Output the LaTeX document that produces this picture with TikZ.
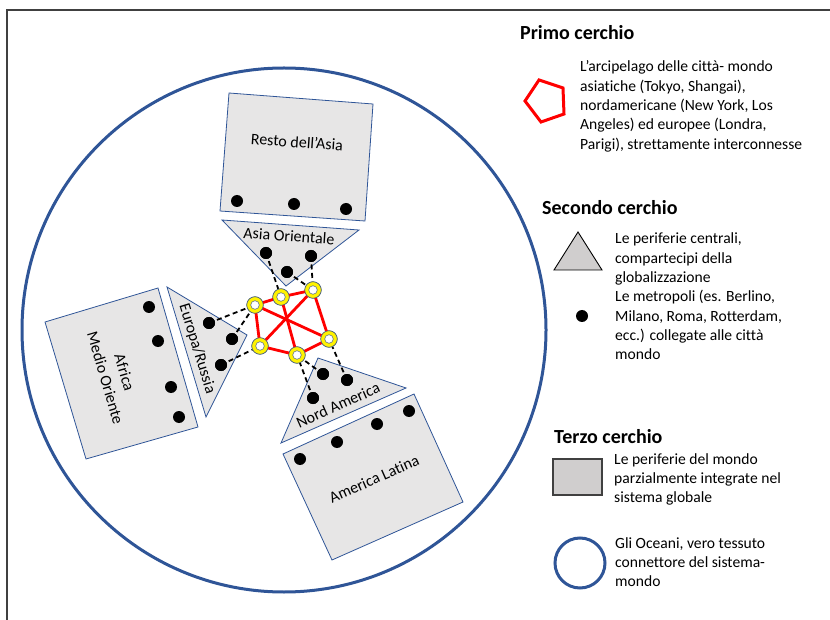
\documentclass[tikz,border=0pt]{standalone}
\usepackage{fontspec}
\setmainfont[Ligatures=NoCommon]{Carlito}
\definecolor{oblue}{HTML}{2F5597}
\definecolor{regfill}{HTML}{E7E6E6}
\definecolor{legfill}{HTML}{D0CECE}
\definecolor{framegray}{HTML}{404040}
\definecolor{ringline}{HTML}{4A6285}
\begin{document}
\begin{tikzpicture}[x=1pt,y=-1pt,
 region/.style={fill=regfill, draw=oblue, line width=0.8pt, line join=miter},
 dot/.style={circle, fill=black, inner sep=0pt, minimum size=12pt},
 city/.style={circle, fill=yellow, draw=ringline, line width=0.6pt, minimum size=16.5pt, inner sep=0pt,
   path picture={\draw[fill=white, draw=ringline, line width=0.5pt] (path picture bounding box.center) circle (4.3pt);}},
 core/.style={red, line width=2.8pt},
 link/.style={black, line width=1.8pt, dash pattern=on 5pt off 3.5pt},
 reglabel/.style={font=\fontsize{16}{20}\selectfont, align=center, inner sep=0pt},
 legtitle/.style={font=\bfseries\fontsize{20}{24}\selectfont, anchor=base west, inner sep=0pt},
 legtext/.style={font=\fontsize{15.6}{19.3}\selectfont, align=left, anchor=base west, inner sep=0pt},
]
\useasboundingbox (0,0) rectangle (830,620);
% frame
\coordinate (fbl) at (7,620);
\coordinate (ftl) at (7,10);
\coordinate (ftr) at (830,10);
\draw[framegray, line width=1.5pt] (fbl) -- (ftl) -- (ftr);

% oceans circle
\node[circle, draw=oblue, line width=3pt, minimum size=524pt, inner sep=0pt] (ocean) at (284,330) {};

% ---- regions ----
\draw[region] (229,93) -- (373,104) -- (365,221) -- (220,211) -- cycle;
\node[reglabel, rotate=-4] (restoasia) at (297,142) {Resto dell’Asia};

\draw[region] (222,220) -- (359,230) -- (286,286) -- cycle;
\node[reglabel, rotate=-4] (asiaor) at (289,236) {Asia Orientale};

\draw[region] (45,322) -- (158,288) -- (198,427) -- (86,459) -- cycle;
\node[reglabel, rotate=-73.6] (africa) at (115,375) {Africa\\Medio Oriente};

\draw[region] (167,287) -- (247,335) -- (206,417) -- cycle;
\node[reglabel, rotate=-73] (europa) at (197,349) {Europa/Russia};

\draw[region] (318,358) -- (406,388) -- (281,443) -- cycle;
\node[reglabel, rotate=24] (nordam) at (338,405) {Nord America};

\draw[region] (283,454) -- (414,394) -- (463,502) -- (332,560) -- cycle;
\node[reglabel, rotate=24] (amlat) at (374,479) {America Latina};

% ---- core cities ----
\node[city] (A) at (255,305) {};
\node[city] (B) at (281,297) {};
\node[city] (C) at (313,290) {};
\node[city] (D) at (329,339) {};
\node[city] (E) at (297,355) {};
\node[city] (F) at (260,346) {};

% ---- metropolis dots ----
\node[dot] (ra1) at (237,201) {};
\node[dot] (ra2) at (294,204) {};
\node[dot] (ra3) at (346,209) {};

\node[dot] (ao1) at (266,253) {};
\node[dot] (ao2) at (311,256) {};
\node[dot] (ao3) at (287,272) {};

\node[dot] (eu1) at (209,323) {};
\node[dot] (eu2) at (232,339) {};
\node[dot] (eu3) at (221,365) {};

\node[dot] (af1) at (149,307) {};
\node[dot] (af2) at (158,341) {};
\node[dot] (af3) at (171,387) {};
\node[dot] (af4) at (179,417) {};

\node[dot] (na1) at (323,374) {};
\node[dot] (na2) at (347,380) {};
\node[dot] (na3) at (313,398) {};

\node[dot] (al1) at (300,459) {};
\node[dot] (al2) at (337,442) {};
\node[dot] (al3) at (377,424) {};
\node[dot] (al4) at (409,411) {};

% ---- dashed links ----
\draw[link] (ao1.center) -- (B);
\draw[link] (ao2.center) -- (C);
\draw[link] (ao3.center) -- (C);
\draw[link] (eu1.center) -- (A);
\draw[link] (eu2.center) -- (A);
\draw[link] (eu3.center) -- (F);
\draw[link] (na1.center) -- (E);
\draw[link] (na3.center) -- (E);
\draw[link] (na2.center) -- (D);
% dots on top of links
\foreach \d in {ao1,ao2,ao3,eu1,eu2,eu3,na1,na2,na3}
  \fill (\d.center) circle (6pt);

% ---- core network ----
\draw[core] (A.center) -- (B.center) -- (C.center) -- (D.center) -- (E.center) -- (F.center) -- cycle;
\draw[core] (A.center) -- (D.center);
\draw[core] (C.center) -- (F.center);
\draw[core] (B.center) -- (E.center);
\foreach \c in {A,B,C,D,E,F}
  \node[city] at (\c) {};

% ---- legend ----
\node[legtitle] (t1) at (520,40) {Primo cerchio};
\draw[red, line width=3pt, line join=miter] (539,80) -- (563,88) -- (564,114) -- (541,122) -- (525,101) -- cycle;
\node[legtext] (l1) at (580,149.2) {L’arcipelago delle città- mondo\\asiatiche (Tokyo, Shangai),\\nordamericane (New York, Los\\Angeles) ed europee (Londra,\\Parigi), strettamente interconnesse};

\node[legtitle] (t2) at (542,215) {Secondo cerchio};
\draw[fill=legfill, draw=black, line width=0.9pt] (578,232) -- (602,270) -- (554,270) -- cycle;
\node[legtext] (l2) at (615,282.6) {Le periferie centrali,\\compartecipi della\\globalizzazione};
\node[dot] (ldot) at (582,316) {};
\node[legtext] (l3) at (615,359.9) {Le metropoli (es. Berlino,\\Milano, Roma, Rotterdam,\\ecc.) collegate alle città\\mondo};

\node[legtitle] (t3) at (554,443) {Terzo cerchio};
\node[draw=framegray, fill=legfill, line width=1.2pt, minimum width=49pt, minimum height=36pt, inner sep=0pt] (lsq) at (577.5,477) {};
\node[legtext] (l4) at (614,502.6) {Le periferie del mondo\\parzialmente integrate nel\\sistema globale};

\node[circle, draw=oblue, line width=3pt, minimum size=50pt, inner sep=0pt] (lcirc) at (580,563) {};
\node[legtext] (l5) at (615,586.6) {Gli Oceani, vero tessuto\\connettore del sistema-\\mondo};
\end{tikzpicture}
\end{document}
